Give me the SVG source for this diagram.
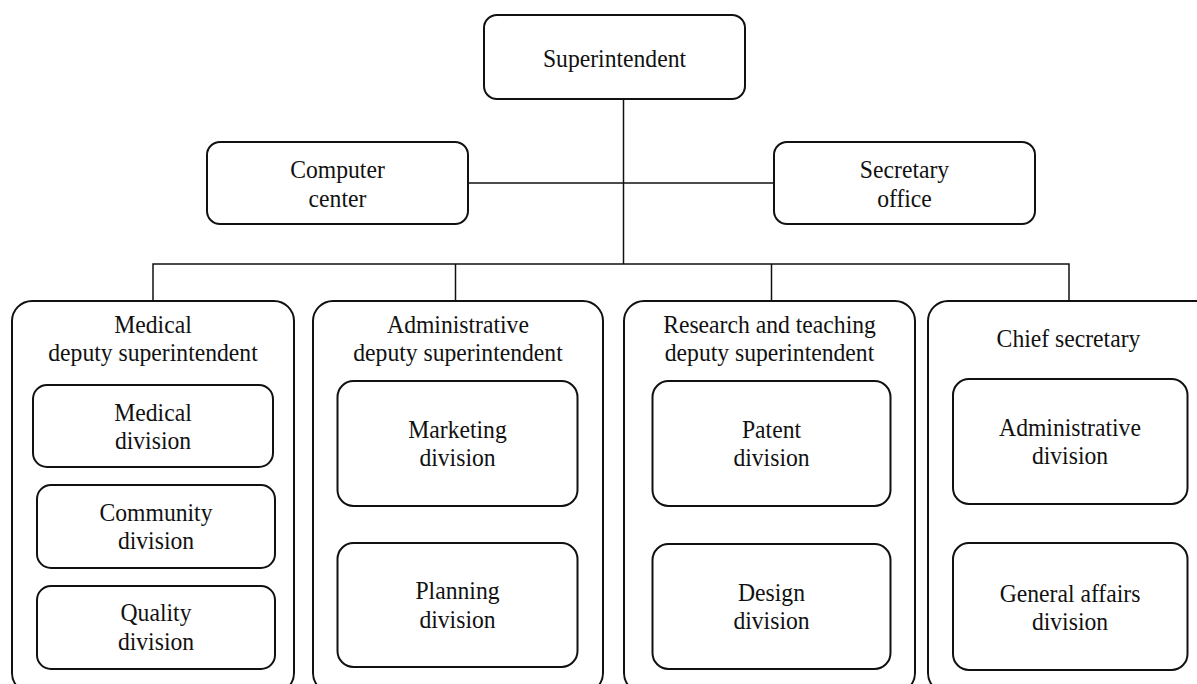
<svg xmlns="http://www.w3.org/2000/svg" width="1197" height="684" viewBox="0 0 1197 684">
<style>
.box{fill:#fff;stroke:#111;stroke-width:2}
.con{fill:none;stroke:#111;stroke-width:1.5}
text{font-family:"Liberation Serif","Times New Roman",serif;font-size:26px;fill:#111;text-anchor:middle}
</style>
<rect width="1197" height="684" fill="#fff"/>
<g id="connectors">
<line class="con" x1="623.5" y1="99" x2="623.5" y2="264"/>
<line class="con" x1="468" y1="183" x2="774" y2="183"/>
<polyline class="con" points="153,301 153,264 1069,264 1069,301"/>
<line class="con" x1="455.5" y1="264" x2="455.5" y2="301"/>
<line class="con" x1="771.5" y1="264" x2="771.5" y2="301"/>
</g>
<g id="superintendent">
<rect class="box" x="484" y="15" width="261" height="84" rx="13"/>
<text transform="translate(614.5,67) scale(0.91,1)">Superintendent</text>
</g>
<g id="computer-center">
<rect class="box" x="207" y="142" width="261" height="82" rx="13"/>
<text transform="translate(337.5,178) scale(0.91,1)">Computer</text>
<text transform="translate(337.5,207) scale(0.91,1)">center</text>
</g>
<g id="secretary-office">
<rect class="box" x="774" y="142" width="261" height="82" rx="13"/>
<text transform="translate(904.5,178) scale(0.91,1)">Secretary</text>
<text transform="translate(904.5,207) scale(0.91,1)">office</text>
</g>
<g id="medical-deputy">
<rect class="box" x="12" y="301" width="282" height="392" rx="20"/>
<text transform="translate(153,333) scale(0.91,1)">Medical</text>
<text transform="translate(153,361) scale(0.91,1)">deputy superintendent</text>
</g>
<g id="medical-division">
<rect class="box" x="33" y="385" width="240" height="82" rx="14"/>
<text transform="translate(153,421) scale(0.91,1)">Medical</text>
<text transform="translate(153,449) scale(0.91,1)">division</text>
</g>
<g id="community-division">
<rect class="box" x="37" y="485" width="238" height="83" rx="14"/>
<text transform="translate(156,521) scale(0.91,1)">Community</text>
<text transform="translate(156,549) scale(0.91,1)">division</text>
</g>
<g id="quality-division">
<rect class="box" x="37" y="586" width="238" height="83" rx="14"/>
<text transform="translate(156,621) scale(0.91,1)">Quality</text>
<text transform="translate(156,650) scale(0.91,1)">division</text>
</g>
<g id="administrative-deputy">
<rect class="box" x="313" y="301" width="290" height="392" rx="20"/>
<text transform="translate(458,333) scale(0.91,1)">Administrative</text>
<text transform="translate(458,361) scale(0.91,1)">deputy superintendent</text>
</g>
<g id="marketing-division">
<rect class="box" x="337.5" y="381" width="240" height="125" rx="16"/>
<text transform="translate(457.5,438) scale(0.91,1)">Marketing</text>
<text transform="translate(457.5,466) scale(0.91,1)">division</text>
</g>
<g id="planning-division">
<rect class="box" x="337.5" y="543" width="240" height="124" rx="16"/>
<text transform="translate(457.5,599) scale(0.91,1)">Planning</text>
<text transform="translate(457.5,628) scale(0.91,1)">division</text>
</g>
<g id="research-deputy">
<rect class="box" x="624" y="301" width="291" height="392" rx="20"/>
<text transform="translate(769.5,333) scale(0.91,1)">Research and teaching</text>
<text transform="translate(769.5,361) scale(0.91,1)">deputy superintendent</text>
</g>
<g id="patent-division">
<rect class="box" x="652.5" y="381" width="238" height="125" rx="16"/>
<text transform="translate(771.5,438) scale(0.91,1)">Patent</text>
<text transform="translate(771.5,466) scale(0.91,1)">division</text>
</g>
<g id="design-division">
<rect class="box" x="652.5" y="544" width="238" height="125" rx="16"/>
<text transform="translate(771.5,601) scale(0.91,1)">Design</text>
<text transform="translate(771.5,629) scale(0.91,1)">division</text>
</g>
<g id="chief-secretary">
<rect class="box" x="928" y="301" width="290" height="392" rx="20"/>
<text transform="translate(1068.5,347) scale(0.91,1)">Chief secretary</text>
</g>
<g id="administrative-division">
<rect class="box" x="953" y="379" width="234.5" height="125" rx="16"/>
<text transform="translate(1070,436) scale(0.91,1)">Administrative</text>
<text transform="translate(1070,464) scale(0.91,1)">division</text>
</g>
<g id="general-affairs-division">
<rect class="box" x="953" y="543" width="234.5" height="127" rx="16"/>
<text transform="translate(1070,602) scale(0.91,1)">General affairs</text>
<text transform="translate(1070,630) scale(0.91,1)">division</text>
</g>
</svg>
